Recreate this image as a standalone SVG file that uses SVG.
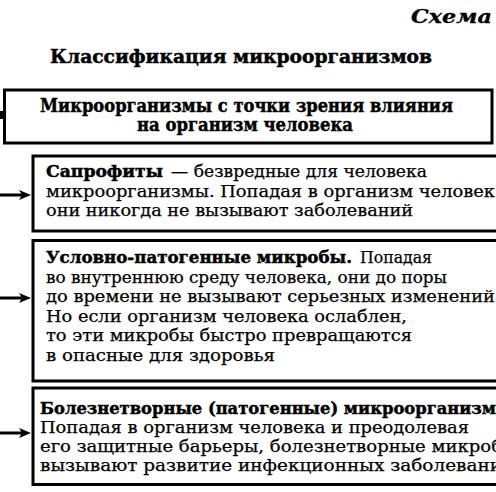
<svg xmlns="http://www.w3.org/2000/svg" width="496" height="492" viewBox="0 0 496 492">
<defs>
<style>
text{font-family:"DejaVu Serif","Liberation Serif",serif;fill:#000}
.t{font-size:16px;stroke:#000;stroke-width:0.25}
.b{font-weight:bold;stroke-width:0.45}
.hd{font-size:18px;font-weight:bold;stroke:#000;stroke-width:0.45}
.box{fill:#fff;stroke:#000;stroke-width:3}
.con{stroke:#000;stroke-width:3;fill:none}
</style>
<marker id="ah" markerUnits="userSpaceOnUse" markerWidth="12" markerHeight="10" refX="3" refY="5" orient="auto">
<path d="M0,0 L12,5 L0,10 L3,5 z" fill="#000"/>
</marker>
</defs>
<rect width="496" height="492" fill="#fff"/>
<g id="caption">
<text x="411" y="23" font-size="19" font-weight="bold" font-style="italic" stroke="#000" stroke-width="0.3" textLength="81" lengthAdjust="spacingAndGlyphs">Схема</text>
</g>
<g id="title">
<text x="50" y="63" font-size="19" font-weight="bold" stroke="#000" stroke-width="0.5" textLength="382" lengthAdjust="spacingAndGlyphs">Классификация микроорганизмов</text>
</g>
<g id="connectors">
<line x1="0" y1="115" x2="4" y2="115" stroke="#000" stroke-width="8"/>
<path class="con" d="M0,195 H22" marker-end="url(#ah)"/>
<path class="con" d="M0,298 H22" marker-end="url(#ah)"/>
<path class="con" d="M0,433 H22" marker-end="url(#ah)"/>
</g>
<g id="node-root">
<rect class="box" x="4.5" y="90" width="487.5" height="53"/>
<text class="hd" x="40" y="112" textLength="413" lengthAdjust="spacingAndGlyphs">Микроорганизмы с точки зрения влияния</text>
<text class="hd" x="137" y="131" textLength="216" lengthAdjust="spacingAndGlyphs">на организм человека</text>
</g>
<g id="node-saprophytes">
<rect class="box" x="33" y="156" width="480" height="75"/>
<text class="t b" x="46" y="177" textLength="117" lengthAdjust="spacingAndGlyphs">Сапрофиты</text>
<text class="t" x="171" y="177" textLength="256" lengthAdjust="spacingAndGlyphs">— безвредные для человека</text>
<text class="t" x="46" y="196.5" textLength="449" lengthAdjust="spacingAndGlyphs">микроорганизмы. Попадая в организм человек</text>
<text class="t" x="46" y="216" textLength="367" lengthAdjust="spacingAndGlyphs">они никогда не вызывают заболеваний</text>
</g>
<g id="node-conditional">
<rect class="box" x="33" y="240.5" width="480" height="140.5"/>
<text class="t b" x="46" y="263" textLength="306" lengthAdjust="spacingAndGlyphs">Условно-патогенные микробы.</text>
<text class="t" x="360" y="263" textLength="72" lengthAdjust="spacingAndGlyphs">Попадая</text>
<text class="t" x="46" y="282.6" textLength="401" lengthAdjust="spacingAndGlyphs">во внутреннюю среду человека, они до поры</text>
<text class="t" x="46" y="302.2" textLength="449" lengthAdjust="spacingAndGlyphs">до времени не вызывают серьезных изменений</text>
<text class="t" x="46" y="321.8" textLength="361" lengthAdjust="spacingAndGlyphs">Но если организм человека ослаблен,</text>
<text class="t" x="46" y="341.4" textLength="366" lengthAdjust="spacingAndGlyphs">то эти микробы быстро превращаются</text>
<text class="t" x="46" y="361" textLength="229" lengthAdjust="spacingAndGlyphs">в опасные для здоровья</text>
</g>
<g id="node-pathogenic">
<rect class="box" x="33" y="388" width="480" height="96.5"/>
<text class="t b" x="40" y="414" textLength="456" lengthAdjust="spacingAndGlyphs">Болезнетворные (патогенные) микроорганизм</text>
<text class="t" x="40" y="433" textLength="429" lengthAdjust="spacingAndGlyphs">Попадая в организм человека и преодолевая</text>
<text class="t" x="40" y="452" textLength="462" lengthAdjust="spacingAndGlyphs">его защитные барьеры, болезнетворные микроб</text>
<text class="t" x="40" y="471" textLength="462" lengthAdjust="spacingAndGlyphs">вызывают развитие инфекционных заболевани</text>
</g>
</svg>
